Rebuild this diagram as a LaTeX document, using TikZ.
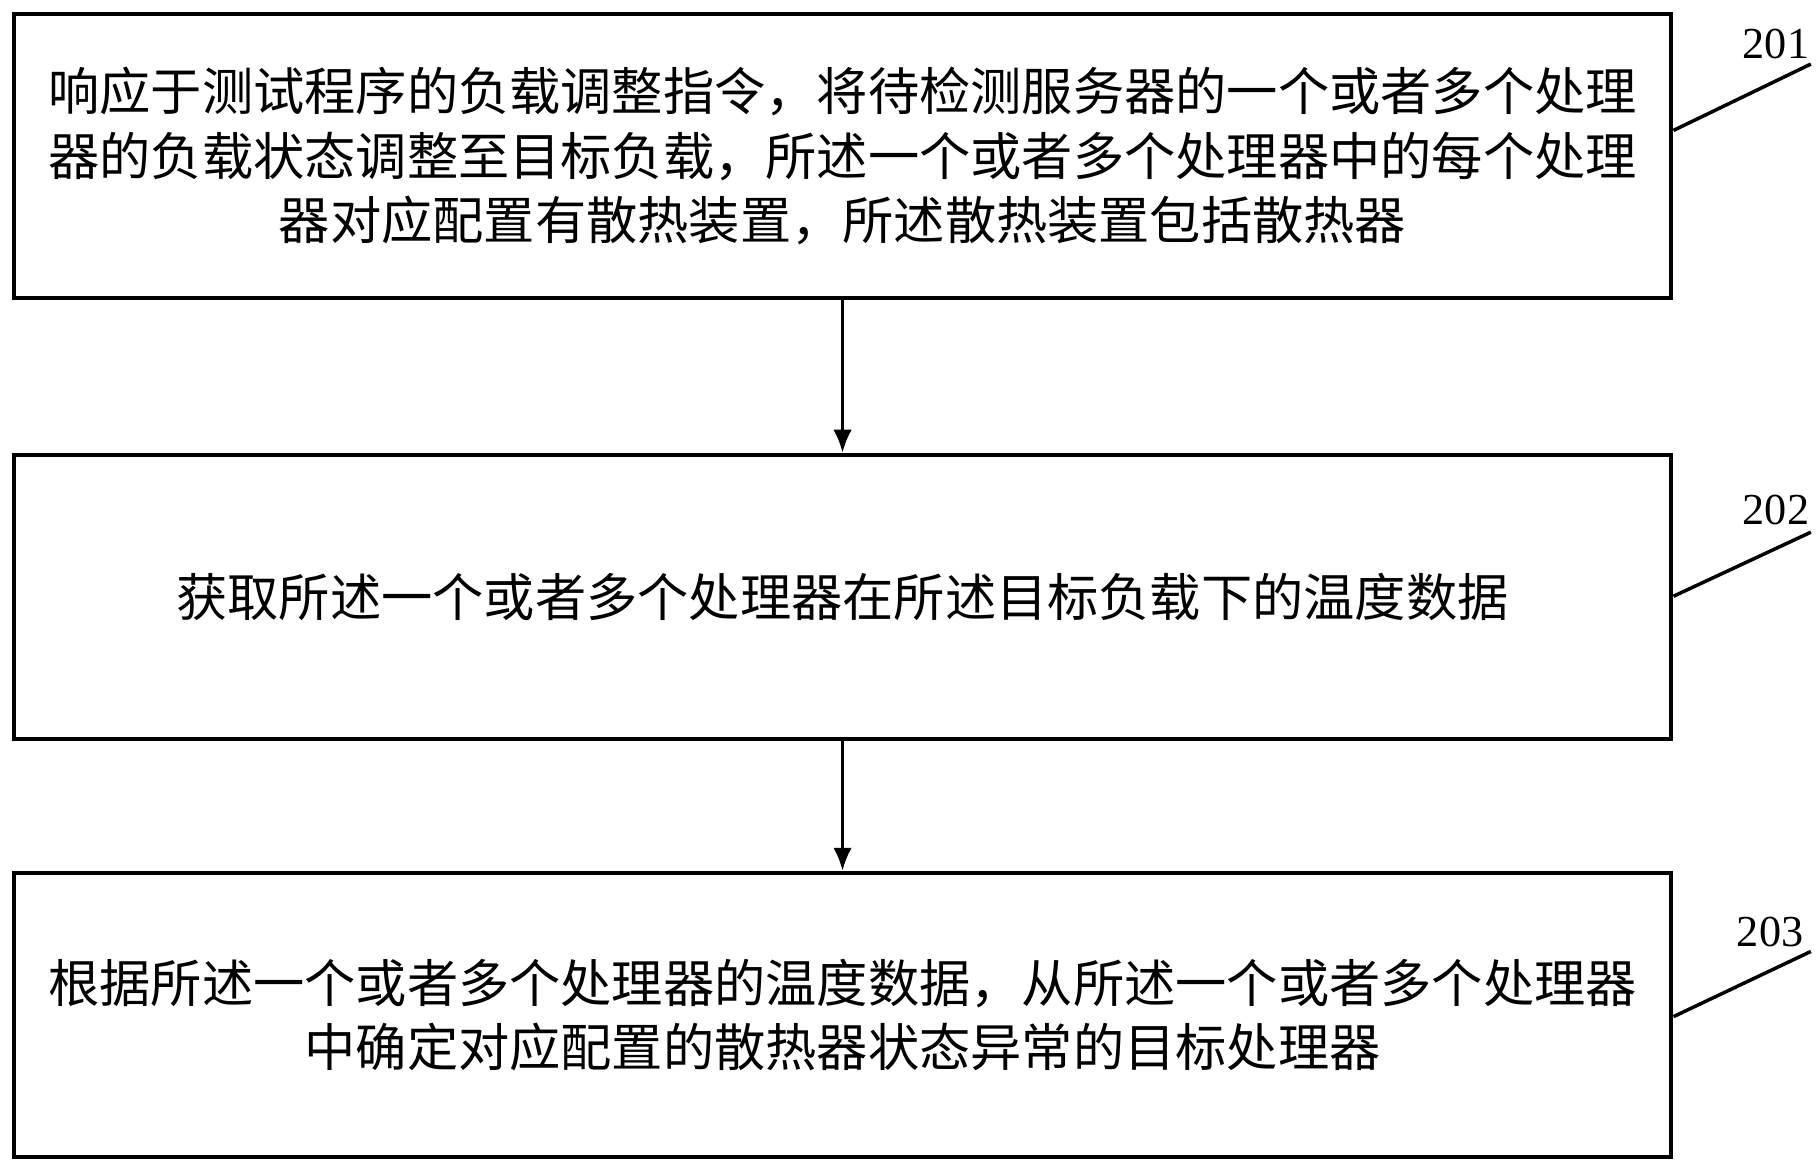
\documentclass[tikz,border=0pt]{standalone}
\usepackage{fontspec}
\usetikzlibrary{arrows.meta}
\newfontfamily\cjk{Noto Sans CJK SC}
\setmainfont{Liberation Serif}
\begin{document}
\begin{tikzpicture}[x=0.5pt,y=-0.5pt,
 box/.style={draw,line width=1.5pt,minimum width=711.5pt,minimum height=122pt,align=center,font=\cjk\fontsize{22}{27.5}\selectfont,inner sep=0pt},
 lab/.style={font=\fontsize{19}{19}\selectfont},
 arr/.style={-{Latex[length=10pt,width=8pt]},line width=1.6pt}]
\useasboundingbox (0,0) rectangle (1562,1006);
\node[box] (b1) at (723.5,134) {响应于测试程序的负载调整指令，将待检测服务器的一个或者多个处理\\器的负载状态调整至目标负载，所述一个或者多个处理器中的每个处理\\器对应配置有散热装置，所述散热装置包括散热器};
\node[box] (b2) at (723.5,512.5) {获取所述一个或者多个处理器在所述目标负载下的温度数据};
\node[box] (b3) at (723.5,871.5) {根据所述一个或者多个处理器的温度数据，从所述一个或者多个处理器\\中确定对应配置的散热器状态异常的目标处理器};
\draw[arr] (b1) -- (b2);
\draw[arr] (b2) -- (b3);
\node[lab] (l1) at (1525,38) {201};
\node[lab] (l2) at (1525,438) {202};
\node[lab] (l3) at (1520,800) {203};
\coordinate (c1) at (1437,112); \coordinate (d1) at (1555,55);
\coordinate (c2) at (1437,512); \coordinate (d2) at (1555,457);
\coordinate (c3) at (1437,873); \coordinate (d3) at (1555,817);
\draw[line width=1.5pt] (c1)--(d1) (c2)--(d2) (c3)--(d3);
\end{tikzpicture}
\end{document}
